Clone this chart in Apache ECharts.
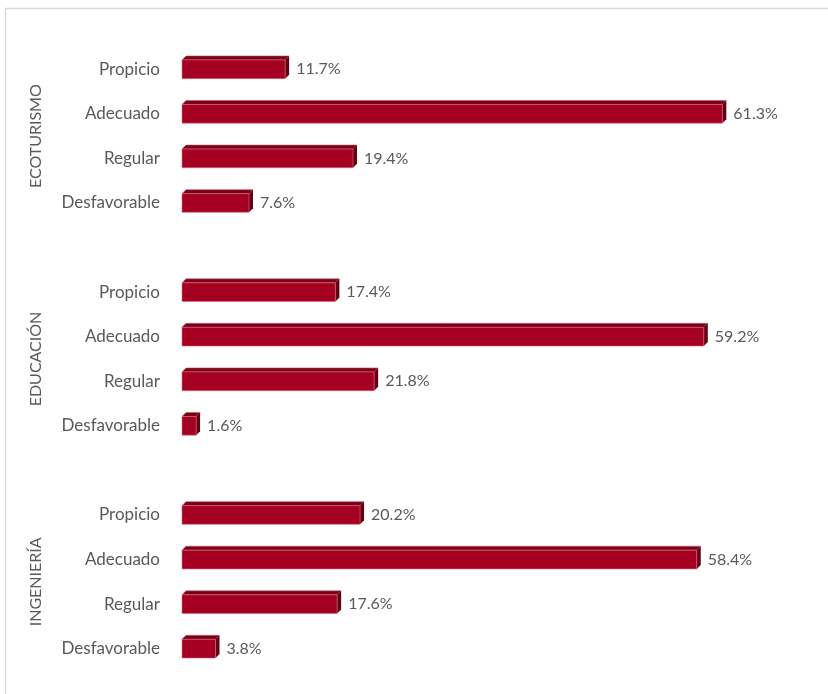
<!DOCTYPE html>
<html>
<head>
<meta charset="utf-8">
<script src="https://cdn.jsdelivr.net/npm/echarts@6/dist/echarts.min.js"></script>
<style>
  html, body { margin: 0; padding: 0; background: #fff; }
  #myCharts { width: 828px; height: 694px; }
</style>
</head>
<body>
<div id="myCharts"></div>
<script>
// grupos y niveles
let groupNames = ["ECOTURISMO", "EDUCACIÓN", "INGENIERÍA"];
let levelNames = ["Propicio", "Adecuado", "Regular", "Desfavorable"];
let ecoturismo = [11.7, 61.3, 19.4, 7.6];
let educacion = [17.4, 59.2, 21.8, 1.6];
let ingenieria = [20.2, 58.4, 17.6, 3.8];
let groupValues = [ecoturismo, educacion, ingenieria];

// categorias: 4 niveles por grupo + un hueco entre grupos
let categories = [];
let barData = [];
let groupCenters = [];
groupValues.forEach(function (vals, g) {
  if (g > 0) categories.push("");
  let first = categories.length;
  vals.forEach(function (v, i) {
    barData.push([v, categories.length]);
    categories.push(levelNames[i]);
  });
  groupCenters.push((first + categories.length - 1) / 2);
});

const textColor = "#595959";
const fontFamily = "Lato, 'Noto Sans', sans-serif";

let myChart = echarts.init(document.getElementById("myCharts"));

let option = {
  backgroundColor: "#fff",
  animation: false,
  graphic: [
    {
      type: "rect",
      shape: { x: 5.5, y: 8.5, width: 1000, height: 1000 },
      style: { fill: "none", stroke: "#d9d9d9", lineWidth: 1.5 },
      silent: true,
      z: -10,
    },
  ],
  grid: {
    left: 182,
    right: 29,
    top: 47,
    bottom: 23,
  },
  xAxis: {
    type: "value",
    min: 0,
    max: 70,
    show: false,
  },
  yAxis: [
    {
      type: "category",
      data: categories,
      inverse: true,
      axisLine: { show: false },
      axisTick: { show: false },
      splitLine: { show: false },
      axisLabel: {
        color: textColor,
        fontFamily: fontFamily,
        fontSize: 17,
        margin: 22,
      },
    },
    {
      type: "value",
      min: -0.5,
      max: categories.length - 0.5,
      inverse: true,
      position: "left",
      offset: 138,
      axisLine: { show: false },
      axisTick: { show: false },
      splitLine: { show: false },
      axisLabel: {
        customValues: groupCenters,
        rotate: 90,
        margin: 0,
        color: textColor,
        fontFamily: fontFamily,
        fontSize: 16,
        formatter: function (val) {
          let idx = groupCenters.indexOf(val);
          return idx >= 0 ? groupNames[idx] : "";
        },
      },
    },
  ],
  series: [
    {
      type: "custom",
      encode: { x: 0, y: 1 },
      data: barData,
      renderItem: function (params, api) {
        let cat = api.value(1);
        let val = api.value(0);
        let start = api.coord([0, cat]);
        let end = api.coord([val, cat]);
        let h = api.size([0, 1])[1] * 0.42;
        let d = 4;
        let x0 = start[0];
        let x1 = end[0];
        let y0 = start[1] - h / 2;
        let y1 = start[1] + h / 2;
        return {
          type: "group",
          children: [
            {
              type: "polygon",
              shape: { points: [[x0, y0], [x0 + d, y0 - d], [x1 + d, y0 - d], [x1, y0]] },
              style: { fill: "#7d0018", stroke: "#c06070", lineWidth: 0.6 },
            },
            {
              type: "polygon",
              shape: { points: [[x1, y0], [x1 + d, y0 - d], [x1 + d, y1 - d], [x1, y1]] },
              style: { fill: "#650012" },
            },
            {
              type: "rect",
              shape: { x: x0, y: y0, width: x1 - x0, height: h },
              style: { fill: "#a50021", stroke: "#d07080", lineWidth: 0.6 },
            },
            {
              type: "text",
              x: x1 + d + 7,
              y: start[1],
              style: {
                text: val.toFixed(1) + "%",
                fill: textColor,
                font: "16px " + fontFamily,
                textVerticalAlign: "middle",
                textAlign: "left",
              },
            },
          ],
        };
      },
    },
  ],
};

myChart.setOption(option);
</script>
</body>
</html>
